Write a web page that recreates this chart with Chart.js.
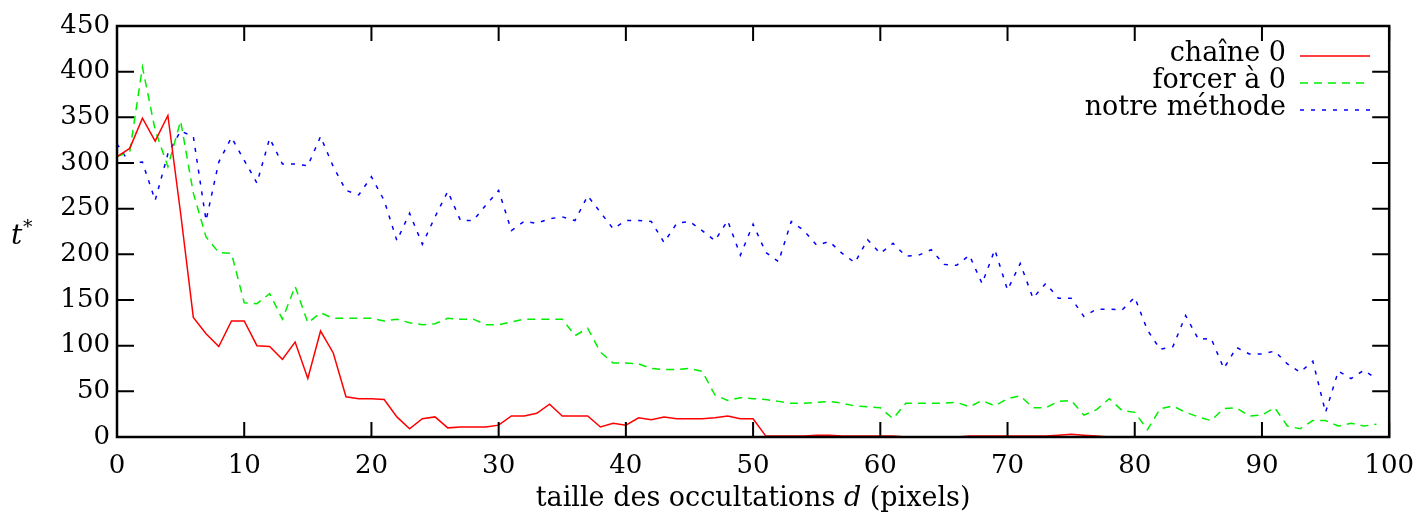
<!DOCTYPE html>
<html>
<head>
<meta charset="utf-8">
<script src="https://cdn.jsdelivr.net/npm/chart.js@4"></script>
<style>
  html, body { margin: 0; padding: 0; background: #fff; }
  #wrap { width: 1428px; height: 519px; }
</style>
</head>
<body>
<div id="wrap"><canvas id="chart" width="1428" height="519"></canvas></div>
<script>
// occlusion size d (pixels)
var sizes = [0,1,2,3,4,5,6,7,8,9,10,11,12,13,14,15,16,17,18,19,20,21,22,23,24,25,26,27,28,29,
    30,31,32,33,34,35,36,37,38,39,40,41,42,43,44,45,46,47,48,49,50,51,52,53,54,55,56,57,58,59,
    60,61,62,63,64,65,66,67,68,69,70,71,72,73,74,75,76,77,78,79,80,81,82,83,84,85,86,87,88,89,
    90,91,92,93,94,95,96,97,98,99];

var chaine0 = [307,316,349,324,352,245,131,113,99,127,127,100,99,85,104,64,116,92,44,42,
    42,41,22,9,20,22,10,11,11,11,13,23,23,26,36,23,23,23,11,15,
    13,21,19,22,20,20,20,21,23,20,20,1,1,1,1,2,2,1,1,1,
    1,1,0,0,0,0,0,1,1,1,1,1,1,1,2,3,2,1,0,0,
    0,0,0,0,0,0,0,0,0,0,0,0,0,0,0,0,0,0,0,0];

var forcer0 = [307,312,405,336,296,346,267,219,202,201,147,146,157,129,165,125,136,130,130,130,
    130,127,129,125,123,124,130,129,129,123,123,126,129,129,129,129,111,119,93,81,
    81,80,75,74,74,75,72,46,40,43,42,41,39,37,37,38,39,37,34,33,
    32,20,37,37,37,37,38,33,40,34,42,45,32,32,39,40,24,30,42,29,
    27,8,31,34,27,22,18,31,32,23,24,32,12,9,18,18,12,15,12,14];

var notreMethode = [321,300,301,259,310,335,329,237,301,328,303,278,327,299,299,297,329,296,270,265,
    285,259,215,245,211,241,269,237,237,254,270,226,236,234,239,241,237,264,246,228,
    237,237,236,213,234,236,226,215,237,199,233,202,192,236,226,210,214,201,191,216,
    201,212,198,199,205,189,188,199,168,205,161,190,152,168,152,152,132,140,140,139,
    153,117,96,99,133,107,108,75,98,91,91,94,80,71,83,27,72,64,73,64];

var seriesNames = ["chaîne 0", "forcer à 0", "notre méthode"];
var xTitle = ["taille des occultations ", "d", " (pixels)"];

var FONT = "DejaVu Serif";

function pts(values) {
    return values.map(function (v, i) {
        return { x: sizes[i], y: v };
    });
}

// frame with inward ticks on all four sides, legend and axis titles
var decorPlugin = {
    id: "decor",
    afterDraw: function (chart) {
        var ctx = chart.ctx;
        var a = chart.chartArea;
        var xs = chart.scales.x, ys = chart.scales.y;
        ctx.save();
        ctx.strokeStyle = "#000";
        ctx.lineWidth = 2.5;
        ctx.strokeRect(a.left, a.top, a.right - a.left, a.bottom - a.top);
        ctx.lineWidth = 2;
        ctx.beginPath();
        xs.ticks.forEach(function (t) {
            var px = xs.getPixelForValue(t.value);
            ctx.moveTo(px, a.bottom);
            ctx.lineTo(px, a.bottom - 15);
            ctx.moveTo(px, a.top);
            ctx.lineTo(px, a.top + 15);
        });
        ys.ticks.forEach(function (t) {
            var py = ys.getPixelForValue(t.value);
            ctx.moveTo(a.left, py);
            ctx.lineTo(a.left + 17, py);
            ctx.moveTo(a.right, py);
            ctx.lineTo(a.right - 17, py);
        });
        ctx.stroke();

        // legend
        ctx.font = "27px '" + FONT + "'";
        ctx.textAlign = "right";
        ctx.textBaseline = "middle";
        chart.data.datasets.forEach(function (ds, i) {
            var y = 56 + i * 27;
            ctx.fillStyle = "#000";
            ctx.fillText(ds.label, 1286, y - 2);
            ctx.strokeStyle = ds.borderColor;
            ctx.lineWidth = 1.5;
            ctx.setLineDash(ds.borderDash || []);
            ctx.beginPath();
            ctx.moveTo(1300, y);
            ctx.lineTo(1370, y);
            ctx.stroke();
        });
        ctx.setLineDash([]);

        // x axis title with italic d
        ctx.fillStyle = "#000";
        ctx.textAlign = "left";
        ctx.textBaseline = "alphabetic";
        var up = "27px '" + FONT + "'", it = "italic 27px '" + FONT + "'";
        ctx.font = up;
        var w0 = ctx.measureText(xTitle[0]).width, w2 = ctx.measureText(xTitle[2]).width;
        ctx.font = it;
        var w1 = ctx.measureText(xTitle[1]).width;
        var x0 = (a.left + a.right) / 2 - (w0 + w1 + w2) / 2;
        ctx.font = up;
        ctx.fillText(xTitle[0], x0, 506);
        ctx.font = it;
        ctx.fillText(xTitle[1], x0 + w0, 506);
        ctx.font = up;
        ctx.fillText(xTitle[2], x0 + w0 + w1, 506);

        // y axis title t*
        ctx.font = "italic 28px '" + FONT + "'";
        ctx.fillText("t", 11, 244);
        ctx.font = "19px '" + FONT + "'";
        ctx.fillText("*", 23, 233);
        ctx.restore();
    }
};

var ctx = document.getElementById("chart").getContext("2d");
new Chart(ctx, {
    type: "line",
    data: {
        datasets: [
            {
                label: seriesNames[0],
                data: pts(chaine0),
                borderColor: "#ff0000",
                borderWidth: 1.5,
                pointRadius: 0,
                fill: false,
            },
            {
                label: seriesNames[1],
                data: pts(forcer0),
                borderColor: "#00ee00",
                borderWidth: 1.5,
                borderDash: [8, 6],
                pointRadius: 0,
                fill: false,
            },
            {
                label: seriesNames[2],
                data: pts(notreMethode),
                borderColor: "#0000ff",
                borderWidth: 1.5,
                borderDash: [4, 7],
                pointRadius: 0,
                fill: false,
            },
        ],
    },
    options: {
        responsive: false,
        animation: false,
        layout: { padding: { left: 0, right: 29, top: 26, bottom: 0 } },
        plugins: {
            legend: { display: false },
            tooltip: { enabled: false },
        },
        scales: {
            x: {
                type: "linear",
                min: 0,
                max: 100,
                afterFit: function (s) { s.height = 82; },
                grid: { display: false, drawTicks: false },
                border: { display: false },
                ticks: {
                    stepSize: 10,
                    padding: 14,
                    color: "#000",
                    font: { family: FONT, size: 26 },
                    maxRotation: 0,
                },
            },
            y: {
                min: 0,
                max: 450,
                afterFit: function (s) { s.width = 117; },
                grid: { display: false, drawTicks: false },
                border: { display: false },
                ticks: {
                    stepSize: 50,
                    padding: 7,
                    color: "#000",
                    font: { family: FONT, size: 26 },
                },
            },
        },
    },
    plugins: [decorPlugin],
});
</script>
</body>
</html>
